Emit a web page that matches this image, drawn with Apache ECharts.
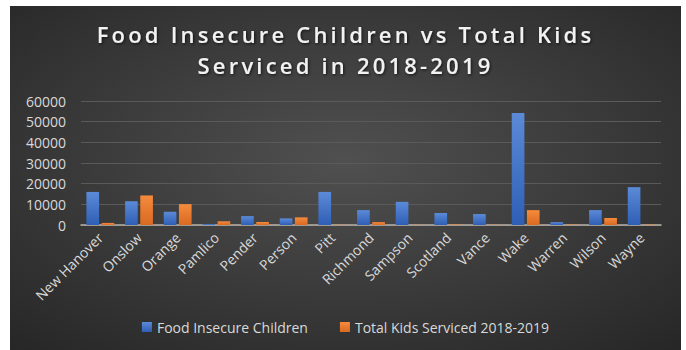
<!DOCTYPE html>
<html>
<head>
<meta charset="utf-8">
<script src="https://cdn.jsdelivr.net/npm/echarts@6/dist/echarts.min.js"></script>
<style>
  html, body { margin: 0; padding: 0; background: #ffffff; }
  #chart { position: absolute; left: 10px; top: 6px; width: 671px; height: 344px; }
</style>
</head>
<body>
<div id="chart"></div>
<script>
// counties on the x axis
const counties = ["New Hanover", "Onslow", "Orange", "Pamlico", "Pender", "Person", "Pitt",
  "Richmond", "Sampson", "Scotland", "Vance", "Wake", "Warren", "Wilson", "Wayne"];

// values
const foodInsecure = [16000, 11500, 6400, 500, 4300, 3200, 16000, 7200, 11200, 5800, 5300, 54200, 1400, 7200, 18300];
const kidsServiced = [1000, 14300, 10100, 1800, 1400, 3700, 150, 1400, 100, 250, 100, 7200, 200, 3400, 200];

const seriesNames = ["Food Insecure Children", "Total Kids Serviced 2018-2019"];
const titleLines = ["Food Insecure Children vs Total Kids", "Serviced in 2018-2019"];
const yTicks = { min: 0, max: 60000, interval: 10000 };

const font = "'Open Sans', 'Noto Sans', sans-serif";

// svg renderer so the title can get the wide letter spacing of the original
const chart = echarts.init(document.getElementById("chart"), null, { renderer: "svg" });

const barFill = (top, bottom) => ({
  type: "linear", x: 0, y: 0, x2: 0, y2: 1,
  colorStops: [{ offset: 0, color: top }, { offset: 1, color: bottom }],
});

chart.setOption({
  animation: false,
  backgroundColor: {
    type: "radial", x: 0.5, y: 0.45, r: 0.75,
    colorStops: [
      { offset: 0, color: "#505050" },
      { offset: 1, color: "#262626" },
    ],
  },
  title: {
    text: titleLines.join("\n"),
    left: "center",
    top: 7,
    textStyle: {
      color: "#f2f2f2",
      fontFamily: font,
      fontWeight: 600,
      fontSize: 22,
      lineHeight: 31,
      textShadowColor: "rgba(0,0,0,0.7)",
      textShadowBlur: 3,
      textShadowOffsetX: 1,
      textShadowOffsetY: 1,
    },
  },
  legend: {
    data: seriesNames,
    bottom: 11,
    left: "center",
    itemWidth: 10,
    itemHeight: 10,
    itemGap: 32,
    icon: "rect",
    textStyle: { color: "#d9d9d9", fontFamily: font, fontSize: 14 },
  },
  grid: { left: 71, right: 20, top: 95, height: 124 },
  xAxis: {
    type: "category",
    data: counties,
    axisTick: { show: false },
    axisLine: { lineStyle: { color: "#b8b2a8", width: 1.5 } },
    axisLabel: {
      rotate: 45,
      interval: 0,
      margin: 10,
      color: "#d9d9d9",
      fontFamily: font,
      fontSize: 14,
    },
  },
  yAxis: {
    type: "value",
    min: yTicks.min,
    max: yTicks.max,
    interval: yTicks.interval,
    axisLine: { show: false },
    axisTick: { show: false },
    axisLabel: {
      color: "#d9d9d9",
      fontFamily: font,
      fontSize: 14,
      margin: 15,
      formatter: (v) => String(v),
    },
    splitLine: { lineStyle: { color: "#5a5a5a", width: 1 } },
  },
  series: [
    {
      name: seriesNames[0],
      type: "bar",
      data: foodInsecure,
      barGap: "20%",
      barCategoryGap: "28%",
      itemStyle: { color: barFill("#5b8ad8", "#2f5fb5") },
    },
    {
      name: seriesNames[1],
      type: "bar",
      data: kidsServiced,
      itemStyle: { color: barFill("#f58a3c", "#d96a22") },
    },
  ],
});

// spread out the title letters (text stays centred since the anchor is middle)
function spaceTitle() {
  document.querySelectorAll("#chart text").forEach((t) => {
    if (titleLines.includes(t.textContent)) {
      t.setAttribute("letter-spacing", "3.2");
    }
  });
}
spaceTitle();
chart.on("finished", spaceTitle);
</script>
</body>
</html>
